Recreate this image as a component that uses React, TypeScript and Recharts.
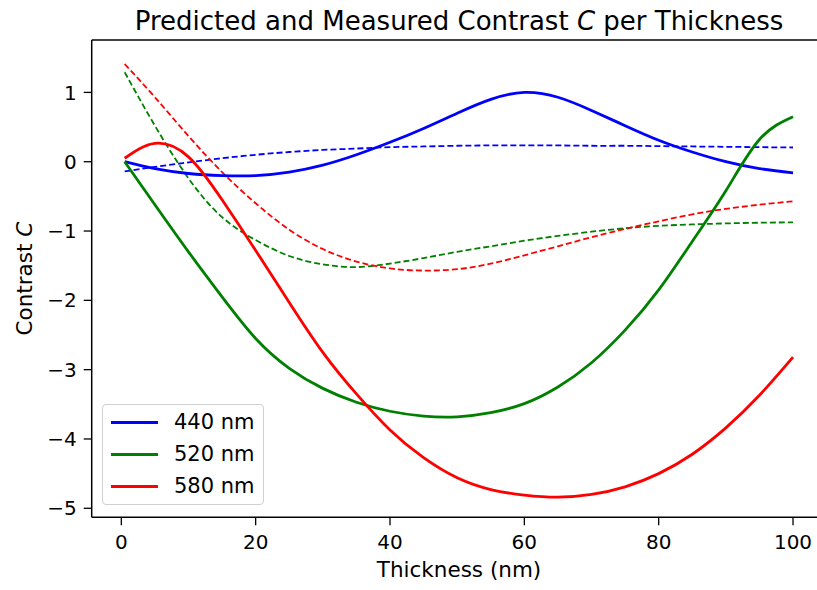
import { LineChart, Line, XAxis, YAxis, Legend, Label, ReferenceLine } from 'recharts'

// thickness samples (nm)
const thickness = [0.5, 5, 10, 15, 20, 25, 30, 35, 40, 45, 50, 55, 60, 65, 70, 75, 80, 85, 90, 95, 100]

// solid curves
const c440 = [0, -0.1, -0.17, -0.2, -0.2, -0.15, -0.05, 0.1, 0.28, 0.48, 0.7, 0.9, 1.0, 0.93, 0.74, 0.52, 0.31, 0.14, 0.0, -0.1, -0.16]
const c520 = [0, -0.62, -1.3, -1.95, -2.55, -2.98, -3.27, -3.47, -3.6, -3.67, -3.68, -3.62, -3.49, -3.25, -2.9, -2.43, -1.85, -1.15, -0.42, 0.32, 0.65]
const c580 = [0.05, 0.265, 0.07, -0.55, -1.28, -2.03, -2.75, -3.35, -3.87, -4.27, -4.56, -4.73, -4.81, -4.84, -4.8, -4.69, -4.5, -4.22, -3.84, -3.37, -2.82]

// dashed curves
const d440 = [-0.14, -0.075, -0.01, 0.05, 0.1, 0.14, 0.17, 0.19, 0.21, 0.22, 0.23, 0.235, 0.235, 0.235, 0.23, 0.23, 0.225, 0.22, 0.215, 0.21, 0.205]
const d520 = [1.29, 0.52, -0.24, -0.8, -1.13, -1.36, -1.48, -1.52, -1.47, -1.39, -1.3, -1.22, -1.14, -1.07, -1.01, -0.96, -0.925, -0.905, -0.89, -0.88, -0.875]
const d580 = [1.41, 0.93, 0.37, -0.15, -0.6, -0.98, -1.26, -1.44, -1.54, -1.57, -1.55, -1.47, -1.35, -1.22, -1.09, -0.97, -0.86, -0.76, -0.68, -0.62, -0.57]

const xTicks = [0, 20, 40, 60, 80, 100]
const yTicks = [-5, -4, -3, -2, -1, 0, 1]
const xDomain = [-4.41, 104.97]
const yDomain = [-5.13, 1.756]

const data = thickness.map((t, i) => ({
  t,
  c440: c440[i], c520: c520[i], c580: c580[i],
  d440: d440[i], d520: d520[i], d580: d580[i],
}))

const FONT = '"DejaVu Sans", sans-serif'
const fmt = (v: number) => (v < 0 ? `\u2212${Math.abs(v)}` : `${v}`)

function LegendBox({ payload }: { payload?: Array<{ value: string; color: string; type?: string }> }) {
  const items = (payload || []).filter(p => p.type !== 'none')
  return (
    <div style={{
      width: 162, height: 101, boxSizing: 'border-box', paddingTop: 1,
      border: '1px solid #d0d0d0', borderRadius: 4, background: 'rgba(255,255,255,0.8)',
      fontFamily: FONT, fontSize: 21, color: '#000',
    }}>
      {items.map(p => (
        <div key={p.value} style={{ height: 32.4, display: 'flex', alignItems: 'center' }}>
          <div style={{ marginLeft: 8, width: 47, height: 3, background: p.color }} />
          <span style={{ marginLeft: 16, lineHeight: 1 }}>{p.value}</span>
        </div>
      ))}
    </div>
  )
}

export default function App() {
  return (
    <div style={{ position: 'fixed', left: 0, top: 0, width: 817, height: 590, overflow: 'hidden', background: '#fff' }}>
      <div style={{
        position: 'absolute', left: 0, top: 6, width: 918, textAlign: 'center',
        fontFamily: FONT, fontSize: 26, color: '#000', whiteSpace: 'nowrap',
      }}>
        Predicted and Measured Contrast <i>C</i> per Thickness
      </div>
      <LineChart width={830} height={590} data={data} margin={{ top: 40, right: 3.6, bottom: 0, left: 0 }}>
        <XAxis
          dataKey="t" type="number" domain={xDomain} ticks={xTicks} interval={0}
          allowDataOverflow height={72.7} tickSize={8} tickMargin={9} tickFormatter={fmt}
          axisLine={{ stroke: '#000', strokeWidth: 1.5 }} tickLine={{ stroke: '#000', strokeWidth: 1.3 }}
          tick={{ fill: '#000', fontSize: 20, fontFamily: FONT }}
        >
          <Label content={({ viewBox }: any) => (
            <text x={viewBox.x + viewBox.width / 2} y={viewBox.y + 59.5} textAnchor="middle"
              fontFamily={FONT} fontSize={21.5} fill="#000">Thickness (nm)</text>
          )} />
        </XAxis>
        <YAxis
          type="number" domain={yDomain} ticks={yTicks} interval={0} allowDataOverflow
          width={91.7} tickSize={8} tickMargin={7} tickFormatter={fmt}
          axisLine={{ stroke: '#000', strokeWidth: 1.5 }} tickLine={{ stroke: '#000', strokeWidth: 1.3 }}
          tick={{ fill: '#000', fontSize: 20, fontFamily: FONT }}
        >
          <Label content={({ viewBox }: any) => {
            const cy = viewBox.y + viewBox.height / 2
            return (
              <text x={32} y={cy} transform={`rotate(-90 32 ${cy})`} textAnchor="middle"
                fontFamily={FONT} fontSize={21.5} fill="#000">
                Contrast <tspan fontStyle="italic">C</tspan>
              </text>
            )
          }} />
        </YAxis>
        {/* top spine */}
        <ReferenceLine y={yDomain[1]} stroke="#000" strokeWidth={1.5} />
        <Legend layout="vertical" align="center" verticalAlign="middle"
          wrapperStyle={{ left: 102, top: 404, width: 'auto', height: 'auto' }}
          content={<LegendBox />} />
        <Line dataKey="d440" stroke="#0000ff" strokeWidth={1.8} strokeDasharray="6 3" dot={false} type="natural" legendType="none" isAnimationActive={false} />
        <Line dataKey="d520" stroke="#008000" strokeWidth={1.8} strokeDasharray="6 3" dot={false} type="natural" legendType="none" isAnimationActive={false} />
        <Line dataKey="d580" stroke="#ff0000" strokeWidth={1.8} strokeDasharray="6 3" dot={false} type="natural" legendType="none" isAnimationActive={false} />
        <Line dataKey="c440" name="440 nm" stroke="#0000ff" strokeWidth={2.8} dot={false} type="natural" isAnimationActive={false} />
        <Line dataKey="c520" name="520 nm" stroke="#008000" strokeWidth={2.8} dot={false} type="natural" isAnimationActive={false} />
        <Line dataKey="c580" name="580 nm" stroke="#ff0000" strokeWidth={2.8} dot={false} type="natural" isAnimationActive={false} />
      </LineChart>
    </div>
  )
}
